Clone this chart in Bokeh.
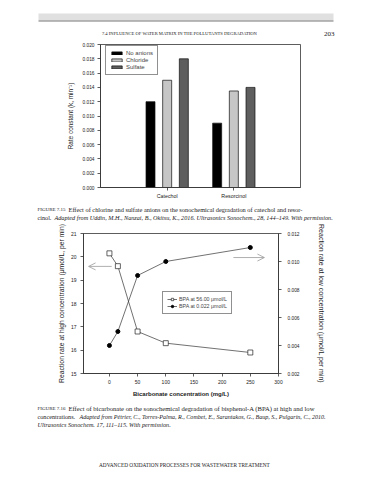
from bokeh.plotting import figure
from bokeh.models import (Range1d, LinearAxis, Label, Legend, LegendItem, FixedTicker,
                          Arrow, OpenHead, NumeralTickFormatter)
from bokeh.embed import file_html
from bokeh.resources import INLINE

# ---------------- data ----------------
compounds = ["Catechol", "Resorcinol"]
series_names = ["No anions", "Chloride", "Sulfate"]
no_anions = [0.012, 0.009]
chloride = [0.015, 0.0135]
sulfate = [0.018, 0.014]
bar_colors = ["#000000", "#c6c6c6", "#5e5e5e"]
rate_ticks = [0.000, 0.002, 0.004, 0.006, 0.008, 0.010, 0.012, 0.014, 0.016, 0.018, 0.020]

bicarbonate = [0, 15, 50, 100, 250]
rate_high = [20.15, 19.6, 16.8, 16.3, 15.9]
rate_low = [0.0040, 0.0050, 0.0090, 0.0100, 0.0110]
left_ticks = [15, 16, 17, 18, 19, 20, 21]
right_ticks = [0.002, 0.004, 0.006, 0.008, 0.010, 0.012]
x_ticks = [0, 50, 100, 150, 200, 250, 300]

SANS = "Liberation Sans"
SERIF = "Liberation Serif"
W = 389


def text_strip(height):
    """A figure whose frame is its whole canvas, y pointing down (page-like)."""
    p = figure(width=W, height=height, output_backend="svg", toolbar_location=None,
               x_range=Range1d(0, W), y_range=Range1d(height, 0),
               min_border=0, min_border_left=0, min_border_right=0,
               min_border_top=0, min_border_bottom=0)
    p.axis.visible = False
    p.grid.visible = False
    p.outline_line_color = None
    return p


def lab(p, x, y, text, size="6.4px", font=SERIF, style="normal", align="left",
        color="#1a1a1a"):
    p.add_layout(Label(x=x, y=y, text=text, text_font=font, text_font_size=size,
                       text_font_style=style, text_align=align,
                       text_baseline="middle", text_color=color))


def style_axis(ax, size="4.8px"):
    ax.axis_line_width = 0.8
    ax.axis_line_color = "#333333"
    ax.major_tick_line_color = "#333333"
    ax.major_tick_line_width = 0.8
    ax.major_tick_out = 3
    ax.major_tick_in = 0
    ax.minor_tick_line_color = None
    ax.major_label_text_font = SANS
    ax.major_label_text_font_size = size
    ax.major_label_text_color = "#222222"
    ax.axis_label_text_font = SANS
    ax.axis_label_text_font_size = "6.4px"
    ax.axis_label_text_font_style = "normal"
    ax.axis_label_text_color = "#222222"


# ---------------- page header ----------------
hdr = text_strip(40)
hdr.quad(left=[38], right=[333], top=[13], bottom=[20], fill_color="#e0e0e0",
         line_color=None)
hdr.quad(left=[38], right=[333], top=[20], bottom=[20.9], fill_color="#777777",
         line_color=None)
lab(hdr, 179, 33, "7.4 INFLUENCE OF WATER MATRIX IN THE POLLUTANTS DEGRADATION",
    size="4.6px", align="center")
lab(hdr, 334, 33, "203", size="7px", align="right")

# ---------------- figure 7.15 (bar chart) ----------------
H1 = 161
p1 = figure(width=W, height=H1, output_backend="svg", toolbar_location=None,
            x_range=Range1d(0, 3), y_range=Range1d(0, 0.020),
            min_border_left=100, min_border_right=89, min_border_top=4, min_border_bottom=14)
p1.grid.visible = False
p1.outline_line_color = "#333333"
p1.outline_line_width = 0.8

offsets = [-0.25, 0.0, 0.25]
renderers = []
for vals, off, col in zip([no_anions, chloride, sulfate], offsets, bar_colors):
    xs = [i + 1 + off for i in range(len(compounds))]
    r = p1.vbar(x=xs, top=vals, width=0.135, bottom=0, fill_color=col,
                line_color="#111111", line_width=0.7)
    renderers.append(r)

p1.xaxis.ticker = FixedTicker(ticks=[1, 2])
p1.xaxis.major_label_overrides = {1: compounds[0], 2: compounds[1]}
p1.yaxis.ticker = FixedTicker(ticks=rate_ticks)
p1.yaxis.formatter = NumeralTickFormatter(format="0.000")
p1.yaxis.axis_label = "Rate constant (k, min\u207b\u00b9)"
for ax in (p1.xaxis[0], p1.yaxis[0]):
    style_axis(ax)
p1.xaxis.major_label_text_font_size = "5.3px"
p1.xaxis.major_label_standoff = 2
p1.yaxis.major_label_standoff = 3
p1.yaxis.axis_label_standoff = 5

leg1 = Legend(items=[LegendItem(label=n, renderers=[r]) for n, r in zip(series_names, renderers)],
              location=(5, 112), border_line_color="#222222", border_line_width=0.8,
              label_text_font=SANS, label_text_font_size="6px", glyph_width=13,
              glyph_height=4, label_height=6, spacing=1, padding=4, margin=0,
              label_standoff=3, background_fill_alpha=1)
p1.add_layout(leg1, "center")

# ---------------- caption 7.15 ----------------
cap1 = text_strip(20)
lab(cap1, 37, 8, "FIGURE 7.15", size="5px")
lab(cap1, 68, 8, "Effect of chlorine and sulfate anions on the sonochemical degradation of catechol and resor-",
    size="6.35px")
lab(cap1, 37, 16, "cinol.", size="6.2px")
lab(cap1, 54, 16, "Adapted from Uddin, M.H., Nanzai, B., Okitsu, K., 2016. Ultrasonics Sonochem., 28, 144\u2013149. With permission.",
    size="6.2px", style="italic")

# ---------------- figure 7.16 (line chart) ----------------
H2 = 180
p2 = figure(width=W, height=H2, output_backend="svg", toolbar_location=None,
            x_range=Range1d(-46, 300), y_range=Range1d(15, 21),
            min_border_left=83, min_border_right=111, min_border_top=12, min_border_bottom=28)
p2.grid.visible = False
p2.outline_line_color = "#333333"
p2.outline_line_width = 0.8
p2.extra_y_ranges = {"low": Range1d(0.002, 0.012)}
rax = LinearAxis(y_range_name="low", ticker=FixedTicker(ticks=right_ticks),
                 formatter=NumeralTickFormatter(format="0.000"),
                 axis_label="Reaction rate at low concentration (\u03bcmol/L per min)")
p2.add_layout(rax, "right")

l1 = p2.line(bicarbonate, rate_high, line_color="#333333", line_width=0.7)
s1 = p2.scatter(bicarbonate, rate_high, marker="square", size=5, fill_color="white",
                line_color="#222222", line_width=0.7)
l2 = p2.line(bicarbonate, rate_low, y_range_name="low", line_color="#333333", line_width=0.7)
s2 = p2.scatter(bicarbonate, rate_low, y_range_name="low", marker="circle", size=4,
                fill_color="black", line_color="black")

p2.xaxis.ticker = FixedTicker(ticks=x_ticks)
p2.yaxis[0].ticker = FixedTicker(ticks=left_ticks)
p2.xaxis.axis_label = "Bicarbonate concentration (mg/L)"
p2.yaxis[0].axis_label = "Reaction rate at high concentration (\u03bcmol/L, per min)"
for ax in p2.xaxis + p2.yaxis:
    style_axis(ax, size="5px")
rax.major_label_text_font_size = "4.8px"
p2.xaxis.axis_label_text_font_style = "bold"
p2.xaxis.axis_label_text_font_size = "6px"
p2.yaxis[0].axis_label_text_font_size = "6.8px"
rax.axis_label_text_font_size = "7px"
p2.xaxis.major_label_standoff = 3
p2.xaxis.axis_label_standoff = 4
p2.yaxis[0].major_label_standoff = 4
p2.yaxis[0].axis_label_standoff = 3
rax.major_label_standoff = 6
rax.axis_label_standoff = 15

leg2 = Legend(items=[LegendItem(label="BPA at 56.00 \u03bcmol/L", renderers=[l1, s1]),
                     LegendItem(label="BPA at 0.022 \u03bcmol/L", renderers=[l2, s2])],
              location=(79, 59), border_line_color="#222222",
              border_line_width=0.8, label_text_font=SANS, label_text_font_size="5.3px",
              glyph_width=10, glyph_height=6, label_height=6, spacing=1, padding=4,
              margin=0, label_standoff=2, background_fill_alpha=1)
p2.add_layout(leg2, "center")

# arrows pointing to the axis each series belongs to
arrow_left = dict(x0=4, x1=-37, y=19.59)
arrow_right = dict(x0=220, x1=275, y=19.97)
for a in (arrow_left, arrow_right):
    p2.add_layout(Arrow(x_start=a["x0"], x_end=a["x1"], y_start=a["y"], y_end=a["y"],
                        line_color="#9a9a9a", line_width=0.8,
                        end=OpenHead(size=7, line_color="#9a9a9a", line_width=0.8)))

# ---------------- caption 7.16 + footer ----------------
cap2 = text_strip(78)
lab(cap2, 37, 7, "FIGURE 7.16", size="5px")
lab(cap2, 68, 7, "Effect of bicarbonate on the sonochemical degradation of bisphenol-A (BPA) at high and low",
    size="6.6px")
lab(cap2, 37, 15, "concentrations.", size="6.2px")
lab(cap2, 79, 15, "Adapted from P\u00e9trier, C., Torres-Palma, R., Combet, E., Sarantakos, G., Baup, S., Pulgarin, C., 2010.",
    size="6.05px", style="italic")
lab(cap2, 37, 23, "Ultrasonics Sonochem. 17, 111\u2013115. With permission.", size="6.2px", style="italic")
lab(cap2, 184, 63, "ADVANCED OXIDATION PROCESSES FOR WASTEWATER TREATMENT", size="5.3px", align="center")

open("out.html", "w").write(file_html([hdr, p1, cap1, p2, cap2], INLINE))
